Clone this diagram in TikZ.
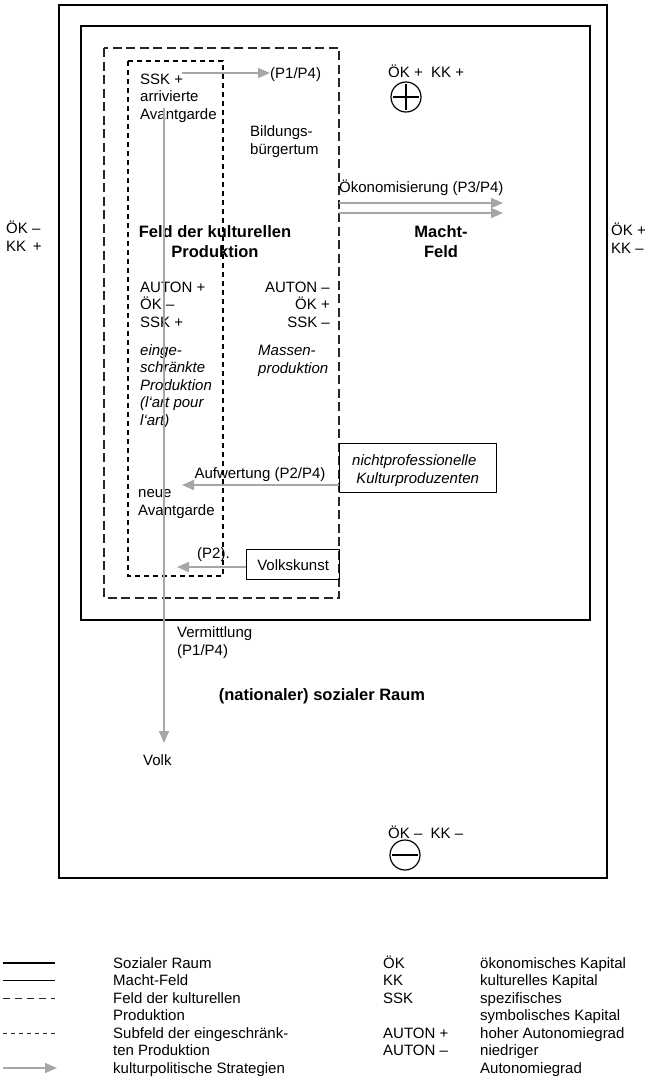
\documentclass[tikz,border=0pt]{standalone}
\usepackage{fontspec}
\setmainfont{Liberation Sans}
\usetikzlibrary{arrows.meta}
\begin{document}
\begin{tikzpicture}[x=1pt,y=-1pt,
  txt/.style={font=\fontsize{15}{17.5}\selectfont, inner sep=0pt, align=left},
  btxt/.style={txt, font=\fontsize{16.5}{19.5}\selectfont\bfseries, align=center},
  itxt/.style={txt, font=\fontsize{15}{17.5}\selectfont\itshape},
  sozial/.style={draw=black, line width=2pt},
  macht/.style={draw=black, line width=1.3pt},
  feld/.style={draw=black!85, line width=1.3pt, dash pattern=on 9pt off 4.5pt},
  subfeld/.style={draw=black, line width=1.3pt, dash pattern=on 5pt off 4pt},
  strat/.style={draw=black!35, line width=1.6pt, -{Triangle[length=12pt,width=10pt]}},
  boxed/.style={draw=black, line width=1.3pt, inner sep=0pt},
  pm/.style={draw=black, line width=1.2pt}
]
\useasboundingbox (0,0) rectangle (648,1080);

% frames
\draw[sozial] (59,5) rectangle (607,878);
\draw[macht] (81,26) rectangle (590,620);
\draw[feld] (104,48) rectangle (339,598);
\draw[subfeld] (128,61) rectangle (223,576);

% side labels
\node[txt, anchor=base west] (lk) at (6,251) {ÖK –\\KK \,+};
\node[txt, anchor=base west] (rk) at (611,253) {ÖK +\\KK –};

% top plus
\node[txt, anchor=base west] (pltxt) at (388,77) {ÖK + \ KK +};
\node[pm, circle, minimum size=30pt, inner sep=0pt] (plus) at (406,97) {};
\draw[pm] ([xshift=3pt]plus.west) -- ([xshift=-3pt]plus.east) ([yshift=-3pt]plus.north) -- ([yshift=3pt]plus.south);

% subfield top text
\node[txt, anchor=base west] (ssk) at (140,119.4) {SSK +\\arrivierte\\Avantgarde};
\node[txt, anchor=base west] (p1p4) at (270,78.4) {(P1/P4)};
\node[txt, anchor=base west] (bild) at (250,154) {Bildungs-\\bürgertum};

% titles
\node[btxt, anchor=base] (fkp) at (215,257) {Feld der kulturellen\\Produktion};
\node[btxt, anchor=base] (mf) at (441,257) {Macht-\\Feld};

% Oekonomisierung
\node[txt, anchor=base west] (oek) at (339,192.4) {Ökonomisierung (P3/P4)};
\coordinate (o1s) at (339,203); \coordinate (o1e) at (503,203);
\coordinate (o2s) at (339,213); \coordinate (o2e) at (503,213);
\draw[strat] (o1s) -- (o1e);
\draw[strat] (o2s) -- (o2e);

% AUTON blocks
\node[txt, anchor=base west] (ap) at (140,327.4) {AUTON +\\ÖK –\\SSK +};
\node[txt, anchor=base east, align=right] (am) at (330,327.4) {AUTON –\\ÖK +\\SSK –};
\node[itxt, anchor=base west] (eing) at (140,425.4) {einge-\\schränkte\\Produktion\\(l‘art pour\\l‘art)};
\node[itxt, anchor=base west] (mass) at (258,373) {Massen-\\produktion};

% nichtprofessionelle
\node[boxed, minimum width=157pt, minimum height=49pt, anchor=north west] (np) at (339,443) {};
\node[itxt, anchor=base west] (nptxt) at (352,483.4) {nichtprofessionelle\\\ Kulturproduzenten};
\coordinate (aufs) at (339,485); \coordinate (aufe) at (182,485);
\draw[strat] (aufs) -- (aufe);
\node[txt, anchor=base] (auf) at (260,478.4) {Aufwertung (P2/P4)};
\node[txt, anchor=base west] (neue) at (138,515.4) {neue\\Avantgarde};

% Volkskunst
\node[boxed, minimum width=93pt, minimum height=30pt, anchor=north west] (vkbox) at (246,549) {};
\node[txt] (vk) at (vkbox.center) {Volkskunst};
\coordinate (vke) at (177,567);
\draw[strat] (vkbox.west |- vke) -- (vke);
\node[txt, anchor=base west] (p2) at (197,558) {(P2).};

% Vermittlung
\coordinate (vs) at (164,108); \coordinate (ve) at (164,743);
\draw[strat] (vs) -- (ve);
\coordinate (ts) at (182,73);
\draw[strat] (ts) -- (p1p4.west |- ts);
\node[txt, anchor=base west] (verm) at (177,655.4) {Vermittlung\\(P1/P4)};
\node[btxt, anchor=base] (nsr) at (322,700) {(nationaler) sozialer Raum};
\node[txt, anchor=base west] (volk) at (143,765.4) {Volk};

% bottom minus
\node[txt, anchor=base west] (mitxt) at (388,838.4) {ÖK – \ KK –};
\node[pm, circle, minimum size=30pt, inner sep=0pt] (minus) at (405,855) {};
\draw[pm] ([xshift=3pt]minus.west) -- ([xshift=-3pt]minus.east);

% legend left
\coordinate (l1a) at (3,963); \coordinate (l1b) at (55,963);
\coordinate (l2a) at (3,980.5); \coordinate (l2b) at (55,980.5);
\coordinate (l3a) at (3,998); \coordinate (l3b) at (55,998);
\coordinate (l5a) at (3,1033); \coordinate (l5b) at (55,1033);
\coordinate (l7a) at (3,1068); \coordinate (l7b) at (57,1068);
\draw[black, line width=1.8pt] (l1a) -- (l1b);
\draw[black, line width=1pt] (l2a) -- (l2b);
\draw[black!85, line width=1pt, dash pattern=on 7pt off 5pt] (l3a) -- (l3b);
\draw[black!85, line width=1pt, dash pattern=on 4pt off 4pt] (l5a) -- (l5b);
\draw[strat, line width=1.3pt] (l7a) -- (l7b);
\node[txt, anchor=base west] (legl) at (113,1073.4) {Sozialer Raum\\Macht-Feld\\Feld der kulturellen\\Produktion\\Subfeld der eingeschränk-\\ten Produktion\\kulturpolitische Strategien};

% legend right
\node[txt, anchor=base west] (legab) at (383,1055.9) {ÖK\\KK\\SSK\\\mbox{}\\AUTON +\\AUTON –};
\node[txt, anchor=base west] (legme) at (480,1073.4) {ökonomisches Kapital\\kulturelles Kapital\\spezifisches\\symbolisches Kapital\\hoher Autonomiegrad\\niedriger\\Autonomiegrad};
\end{tikzpicture}
\end{document}
